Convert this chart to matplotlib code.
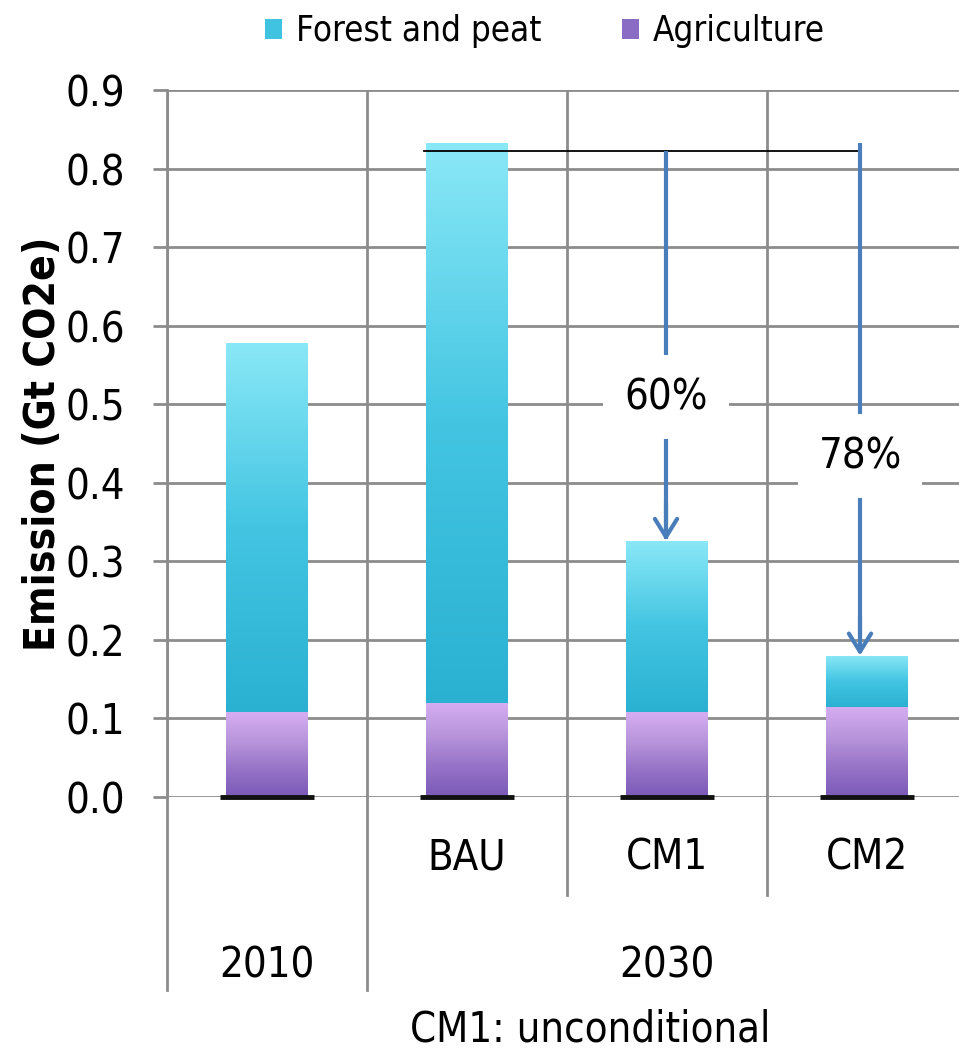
import numpy as np
import matplotlib
matplotlib.use("Agg")
import matplotlib.pyplot as plt
from matplotlib import font_manager
from matplotlib.colors import LinearSegmentedColormap
from matplotlib.lines import Line2D
from matplotlib.patches import Patch
import matplotlib.transforms as mtransforms

# pick a narrow sans face if one is installed
names = {f.name for f in font_manager.fontManager.ttflist}
narrow = [f for f in font_manager.fontManager.ttflist
          if f.name == "DejaVu Sans" and str(f.stretch) in ("condensed", "semi-condensed", "75", "87")]
if "Liberation Sans Narrow" in names:
    FAMILY, STRETCH = ["Liberation Sans Narrow", "DejaVu Sans"], "normal"
elif narrow:
    FAMILY, STRETCH = ["DejaVu Sans"], "condensed"
else:
    FAMILY, STRETCH = ["DejaVu Sans"], "normal"
plt.rcParams['font.family'] = FAMILY
plt.rcParams['font.stretch'] = STRETCH

# ---- data -------------------------------------------------------------
scenarios = ["", "BAU", "CM1", "CM2"]
years = ["2010", "2030"]
agriculture = [0.108, 0.120, 0.108, 0.115]
forest_peat = [0.470, 0.712, 0.218, 0.065]
reductions = ["60%", "78%"]
y_ticks = [0.0, 0.1, 0.2, 0.3, 0.4, 0.5, 0.6, 0.7, 0.8, 0.9]

totals = [a + f for a, f in zip(agriculture, forest_peat)]

# ---- figure -----------------------------------------------------------
W, H = 959, 1055
fig = plt.figure(figsize=(W / 100, H / 100), dpi=100)
left_px, right_px, top_px, bottom_px = 167, 967, 90, 797
ax = fig.add_axes([left_px / W, 1 - bottom_px / H,
                   (right_px - left_px) / W, (bottom_px - top_px) / H])

x = np.arange(len(scenarios))
ax.set_xlim(-0.5, len(scenarios) - 0.5)
ax.set_ylim(0, 0.9)

grid_c = "#8c8c8c"
FS = 30
ax.set_yticks(y_ticks)
ax.set_yticklabels([f"{v:.1f}" for v in y_ticks], fontsize=FS)
ax.tick_params(axis='y', length=10, width=2, color=grid_c, pad=20)
ax.set_xticks(np.arange(-0.5, len(scenarios), 1.0))
ax.set_xticklabels([])
ax.tick_params(axis='x', length=0)
ax.grid(True, color=grid_c, linewidth=2)
ax.set_axisbelow(True)
for s in ["top", "right", "bottom"]:
    ax.spines[s].set_visible(False)
ax.spines["left"].set_color(grid_c)
ax.spines["left"].set_linewidth(2)

ax.set_ylabel("Emission (Gt CO2e)", fontsize=30.5, fontweight="bold",
              labelpad=1)

# ---- gradient-filled stacked bars -------------------------------------
cyan_cmap = LinearSegmentedColormap.from_list(
    "cy", ["#2ab1d2", "#43c5e2", "#8ae8f7"])
purple_cmap = LinearSegmentedColormap.from_list(
    "pu", ["#7a5ab8", "#9874c8", "#b996dc", "#d6adf2"])

bar_w = 0.41
agri_bars = ax.bar(x, agriculture, bar_w, color="#9a76c8", zorder=2)
forest_bars = ax.bar(x, forest_peat, bar_w, bottom=agriculture,
                     color="#45c6e3", zorder=2)

grad = np.linspace(0, 1, 256).reshape(-1, 1)
for bars, cmap in ((agri_bars, purple_cmap), (forest_bars, cyan_cmap)):
    for p in bars:
        if p.get_height() <= 0:
            continue
        x0, y0 = p.get_x(), p.get_y()
        im = ax.imshow(grad, cmap=cmap, origin="lower", aspect="auto",
                       extent=[x0, x0 + p.get_width(), y0, y0 + p.get_height()],
                       zorder=2.5, interpolation="bilinear")
        im.set_clip_path(p)

# dark base strip under each bar
ax.hlines([0] * len(x), x - bar_w / 2 - 0.03, x + bar_w / 2 + 0.03,
          color="#111111", linewidth=3.5, zorder=3, clip_on=False)
ax.set_xlim(-0.5, len(scenarios) - 0.5)
ax.set_ylim(0, 0.9)

# ---- reduction arrows -------------------------------------------------
bau = totals[1]
ref_y = bau - 0.01
ax.plot([x[1] - bar_w / 2 - 0.01, x[3] - 0.035], [ref_y, ref_y],
        color="black", linewidth=1.3, zorder=4)

arrow_c = "#4a7ebb"
arrow_x = [x[2] - 0.005, x[3] - 0.035]
arrow_top = [ref_y, bau]
label_y = [0.509, 0.434]
for ax_x, top, tgt, lab, ly in zip(arrow_x, arrow_top, totals[2:],
                                   reductions, label_y):
    ax.plot([ax_x, ax_x], [top, tgt + 0.003], color=arrow_c, lw=3,
            solid_capstyle="butt", zorder=4)
    ax.annotate("", xy=(ax_x, tgt), xytext=(ax_x, tgt + 0.05),
                arrowprops=dict(arrowstyle="->,head_length=1.3,head_width=0.8",
                                color=arrow_c, lw=3,
                                shrinkA=0, shrinkB=0), zorder=4)
    ax.text(ax_x, ly, lab, ha="center", va="center", fontsize=FS, zorder=5,
            bbox=dict(boxstyle="square,pad=0.5", fc="white", ec="none"))

# ---- two-level category axis ------------------------------------------
trans = mtransforms.blended_transform_factory(ax.transData, ax.transAxes)
axis_h = bottom_px - top_px
long_y = -(990 - bottom_px) / axis_h
short_y = -(895 - bottom_px) / axis_h
for xv in (-0.5, 0.5):
    ax.add_line(Line2D([xv, xv], [0, long_y], transform=trans, color=grid_c,
                       linewidth=2, clip_on=False))
for xv in (1.5, 2.5):
    ax.add_line(Line2D([xv, xv], [0, short_y], transform=trans, color=grid_c,
                       linewidth=2, clip_on=False))

scen_y = -(857 - bottom_px) / axis_h
for xv, s in zip(x, scenarios):
    if s:
        ax.text(xv, scen_y, s, transform=trans, ha="center", va="center",
                fontsize=FS)
year_y = -(965 - bottom_px) / axis_h
ax.text(x[0], year_y, years[0], transform=trans, ha="center", va="center",
        fontsize=FS)
ax.text(np.mean(x[1:]), year_y, years[1], transform=trans, ha="center",
        va="center", fontsize=FS)

fig.text(590 / W, 1 - 1030 / H, "CM1: unconditional", ha="center",
         va="center", fontsize=FS)

# ---- legend -----------------------------------------------------------
handles = [Patch(facecolor="#3fc3e0", edgecolor="none"),
           Patch(facecolor="#8a6cc4", edgecolor="none")]
fig.legend(handles, ["Forest and peat", "Agriculture"], loc="center",
           bbox_to_anchor=(545 / W, 1 - 31 / H), ncol=2, frameon=False,
           fontsize=25, handlelength=0.5, handleheight=0.5,
           handletextpad=0.4, columnspacing=2.3)

fig.savefig("out.png", dpi=100)
